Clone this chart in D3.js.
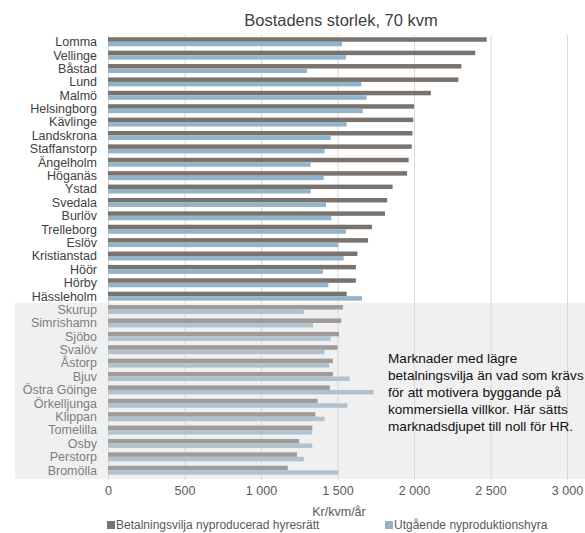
<!DOCTYPE html>
<html>
<head>
<meta charset="utf-8">
<script src="https://cdn.jsdelivr.net/npm/d3@7"></script>
<style>
  body { margin: 0; background: #fff; }
  svg { font-family: "Liberation Sans", Arial, sans-serif; }
</style>
</head>
<body>
<div class="chart"></div>
<script>
// kommuner, sorted as in the picture
var kommuner = ["Lomma", "Vellinge", "Båstad", "Lund", "Malmö", "Helsingborg", "Kävlinge",
  "Landskrona", "Staffanstorp", "Ängelholm", "Höganäs", "Ystad", "Svedala", "Burlöv",
  "Trelleborg", "Eslöv", "Kristianstad", "Höör", "Hörby", "Hässleholm", "Skurup",
  "Simrishamn", "Sjöbo", "Svalöv", "Åstorp", "Bjuv", "Östra Göinge", "Örkelljunga",
  "Klippan", "Tomelilla", "Osby", "Perstorp", "Bromölla"];

// Betalningsvilja nyproducerad hyresrätt (kr/kvm/år)
var betalningsvilja = [2475, 2400, 2310, 2290, 2110, 2000, 1995, 1990, 1985, 1965, 1955,
  1860, 1825, 1810, 1725, 1700, 1630, 1620, 1620, 1560, 1535, 1525, 1510, 1500, 1470,
  1470, 1450, 1370, 1355, 1335, 1250, 1235, 1175];

// Utgående nyproduktionshyra (kr/kvm/år)
var utgaende = [1530, 1555, 1300, 1655, 1690, 1665, 1560, 1455, 1415, 1325, 1410, 1325,
  1425, 1460, 1555, 1505, 1540, 1405, 1440, 1660, 1280, 1340, 1455, 1415, 1445, 1580,
  1735, 1565, 1415, 1335, 1335, 1280, 1505];

var xTicks = [0, 500, 1000, 1500, 2000, 2500, 3000];

// first kommun of the grey "no market" group
var fadedFrom = "Skurup";

var seriesNames = ["Betalningsvilja nyproducerad hyresrätt", "Utgående nyproduktionshyra"];
var seriesColors = ["#7a726d", "#93b3c8"];

var noteLines = ["Marknader med lägre", "betalningsvilja än vad som krävs",
  "för att motivera byggande på", "kommersiella villkor. Här sätts",
  "marknadsdjupet till noll för HR."];

const w = 585;
const h = 533;

const svg = d3.select(".chart")
  .append("svg")
  .attr("width", w)
  .attr("height", h);

//scales
const xScale = d3.scaleLinear()
  .domain([0, 3000])
  .range([108, 567]);

const yScale = d3.scaleBand()
  .domain(kommuner)
  .range([35, 477])
  .paddingInner(0.33)
  .paddingOuter(0.17);

const bw = yScale.bandwidth();

//gridlines
svg.append("g")
  .attr("transform", "translate(0,480)")
  .call(d3.axisBottom(xScale).tickValues(xTicks).tickSize(-445).tickFormat(""))
  .call(g => g.select(".domain").remove())
  .call(g => g.selectAll("line").attr("stroke", "#d9d9d9"));

//bars, brown on top and blue below
svg.append("g").selectAll("rect")
  .data(kommuner)
  .enter()
  .append("rect")
  .attr("x", xScale(0))
  .attr("y", d => yScale(d))
  .attr("width", (d, i) => xScale(betalningsvilja[i]) - xScale(0))
  .attr("height", bw / 2)
  .attr("fill", seriesColors[0]);

svg.append("g").selectAll("rect")
  .data(kommuner)
  .enter()
  .append("rect")
  .attr("x", xScale(0))
  .attr("y", d => yScale(d) + bw / 2)
  .attr("width", (d, i) => xScale(utgaende[i]) - xScale(0))
  .attr("height", bw / 2)
  .attr("fill", seriesColors[1]);

//category labels
svg.append("g").selectAll("text")
  .data(kommuner)
  .enter()
  .append("text")
  .attr("x", 97)
  .attr("y", d => yScale(d) + bw / 2)
  .attr("dy", "0.35em")
  .attr("text-anchor", "end")
  .attr("font-size", "12.5px")
  .attr("fill", "#404040")
  .text(d => d);

//grey overlay over the low markets
const fadeTop = yScale(fadedFrom) - (yScale.step() - bw) / 2;
svg.append("rect")
  .attr("x", 15)
  .attr("y", fadeTop)
  .attr("width", w - 15)
  .attr("height", 479 - fadeTop)
  .attr("fill", "#d9d9d9")
  .attr("opacity", 0.4);

//x axis labels
const xAxis = d3.axisBottom(xScale)
  .tickValues(xTicks)
  .tickSize(0)
  .tickPadding(0)
  .tickFormat(d => d3.format(",")(d).replace(",", " "));
svg.append("g")
  .attr("transform", "translate(0,486)")
  .call(xAxis)
  .call(g => g.select(".domain").remove())
  .call(g => g.selectAll("text")
    .attr("font-family", "Liberation Sans, Arial, sans-serif")
    .attr("font-size", "12.5px")
    .attr("fill", "#595959"));

//title
svg.append("text")
  .attr("x", 341)
  .attr("y", 26)
  .attr("text-anchor", "middle")
  .attr("font-size", "16.5px")
  .attr("fill", "#404040")
  .text("Bostadens storlek, 70 kvm");

//axis title
svg.append("text")
  .attr("x", 339)
  .attr("y", 516)
  .attr("text-anchor", "middle")
  .attr("font-size", "12.5px")
  .attr("fill", "#595959")
  .text("Kr/kvm/år");

//legend
const legendX = [107, 385];
const legend = svg.append("g").selectAll("g")
  .data(seriesNames)
  .enter()
  .append("g")
  .attr("transform", (d, i) => "translate(" + legendX[i] + ",523)");
legend.append("rect")
  .attr("x", 0)
  .attr("y", -2)
  .attr("width", 8)
  .attr("height", 8)
  .attr("fill", (d, i) => seriesColors[i]);
legend.append("text")
  .attr("x", 9)
  .attr("y", 6)
  .attr("font-size", "12px")
  .attr("fill", "#595959")
  .text(d => d);

//note in the grey area
svg.append("g").selectAll("text")
  .data(noteLines)
  .enter()
  .append("text")
  .attr("x", 388)
  .attr("y", (d, i) => 363 + i * 17)
  .attr("font-size", "13.6px")
  .attr("fill", "#111")
  .text(d => d);
</script>
</body>
</html>
